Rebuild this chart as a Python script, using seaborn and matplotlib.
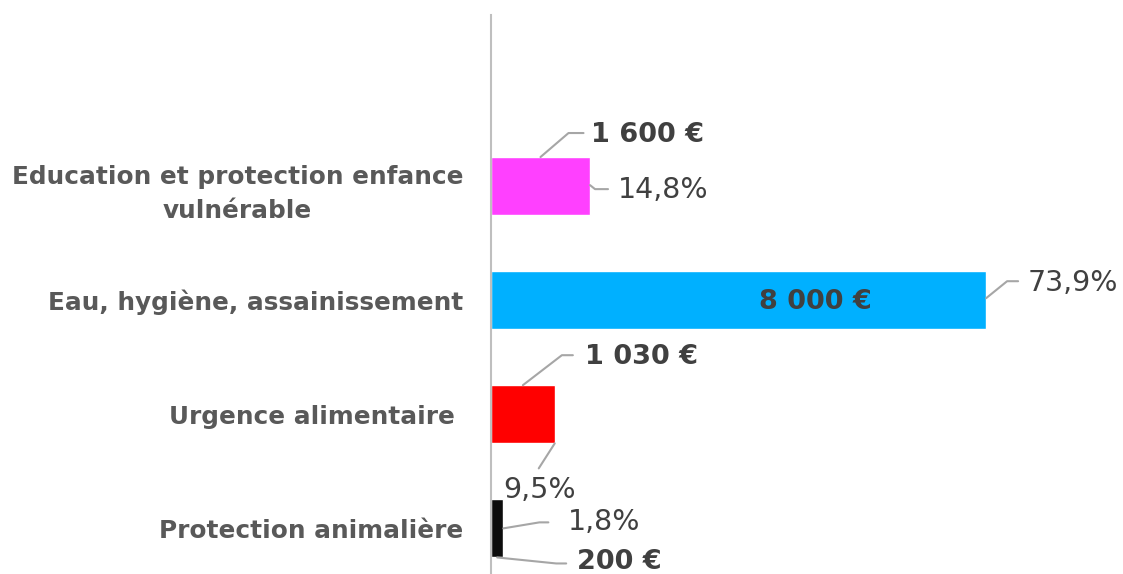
import matplotlib
matplotlib.use("Agg")
import matplotlib.pyplot as plt
import seaborn as sns
import pandas as pd
from matplotlib.lines import Line2D
from matplotlib.transforms import IdentityTransform

# -----------------------------
# Data
# -----------------------------
categories = [
    "Education et protection enfance\nvulnérable",
    "Eau, hygiène, assainissement",
    "Urgence alimentaire ",
    "Protection animalière",
]
amounts = [1600, 8000, 1030, 200]
amount_labels = ["1 600 €", "8 000 €", "1 030 €", "200 €"]
share_labels = ["14,8%", "73,9%", "9,5%", "1,8%"]
colors = ["#FF40FF", "#00B0FF", "#FF0000", "#0D0D0D"]

df = pd.DataFrame({"category": categories, "amount": amounts})

sns.set_style("white")
plt.rcParams["font.family"] = ["DejaVu Sans"]

W, H = 1123, 574
fig = plt.figure(figsize=(W / 100, H / 100), dpi=100)
ax = fig.add_axes([491 / W, 0, 557 / W, 559 / H])

bar_h = 0.51
sns.barplot(data=df, x="amount", y="category", hue="category",
            palette=colors, orient="h", width=bar_h, legend=False,
            saturation=1, ax=ax)

ax.set_xlim(0, 9000)
ax.set_ylim(3.4, -1.5)
ax.set_xlabel("")
ax.set_ylabel("")
ax.set_xticks([])
for s in ["top", "right", "bottom"]:
    ax.spines[s].set_visible(False)
ax.spines["left"].set_color("#BFBFBF")
ax.spines["left"].set_linewidth(1.5)
ax.tick_params(axis="y", length=0, pad=20)
for lab in ax.get_yticklabels():
    lab.set_fontsize(17.8)
    lab.set_fontweight("bold")
    lab.set_color("#595959")
    lab.set_multialignment("center")
    lab.set_linespacing(1.55)

fig.canvas.draw()

txt_col = "#404040"
line_col = "#A6A6A6"


def leader(x, y, pts):
    # pts: pixel offsets, y down like in the image
    bx, by = ax.transData.transform((x, y))
    xs = [bx + dx for dx, dy in pts]
    ys = [by - dy for dx, dy in pts]
    fig.add_artist(Line2D(xs, ys, transform=IdentityTransform(),
                          color=line_col, lw=1.5))


def label(x, y, text, dx, dy, bold=False, ha="left"):
    ax.annotate(text, xy=(x, y), xytext=(dx, -dy), textcoords="offset pixels",
                ha=ha, va="center", fontsize=19.5 if bold else 20.5,
                color=txt_col, fontweight="bold" if bold else "normal")


half = bar_h / 2

# Education
leader(amounts[0] / 2, 0 - half, [(0, 0), (28, -24), (43, -24)])
label(amounts[0] / 2, 0 - half, amount_labels[0], 50, -22, bold=True)
leader(amounts[0], 0, [(0, -1), (5, 3), (18, 3)])
label(amounts[0], 0, share_labels[0], 28, 4)

# Eau
label(amounts[1] / 2, 1, amount_labels[1], 77, 2, bold=True, ha="center")
leader(amounts[1], 1, [(0, -2), (21, -19), (32, -19)])
label(amounts[1], 1, share_labels[1], 42, -17)

# Urgence
leader(amounts[2] / 2, 2 - half, [(0, 0), (39, -30), (50, -30)])
label(amounts[2] / 2, 2 - half, amount_labels[2], 62, -28, bold=True)
leader(amounts[2], 2 + half, [(0, 0), (-16, 25)])
label(amounts[2], 2 + half, share_labels[2], -15, 47, ha="center")

# Protection animale
leader(amounts[3], 3, [(0, 0), (36, -6), (45, -6)])
label(amounts[3], 3, share_labels[3], 64, -6)
leader(amounts[3] / 2, 3 + half, [(0, 0), (59, 6), (69, 6)])
label(amounts[3] / 2, 3 + half, amount_labels[3], 80, 5, bold=True)

fig.savefig("out.png", dpi=100)
